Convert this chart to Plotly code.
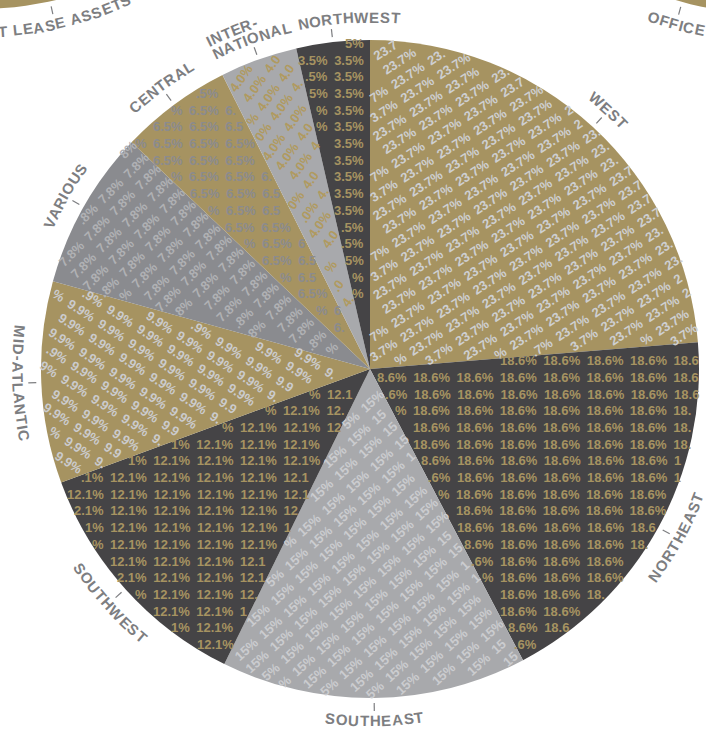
import math
import plotly.graph_objects as go

# ---------------- data ----------------
regions = ["WEST", "NORTHEAST", "SOUTHEAST", "SOUTHWEST", "MID-ATLANTIC",
           "VARIOUS", "CENTRAL", "INTERNATIONAL", "NORTHWEST"]
pct_labels = ["23.7%", "18.6%", "15%", "12.1%", "9.9%", "7.8%", "6.5%", "4.0%", "3.5%"]
# slice sizes as drawn in the picture (angular share of each wedge, %)
slice_shares = [23.7, 18.6, 15.0, 12.1, 9.9, 7.8, 5.5, 3.8, 3.6]
label_lines = {"INTERNATIONAL": ["INTER-", "NATIONAL"]}
neighbor_labels = ["NET LEASE ASSETS", "OFFICE"]

# ---------------- styling / layout ----------------
W, H = 706, 732
CX, CY, R = 370.0, 369.0, 329.0
GOLD = "#a69361"
DARK = "#454446"
LIGHT = "#a8a9ac"
MIDG = "#8a8b8f"
LABEL_GREY = "#7d7e81"
FONT = "Liberation Sans, Arial, Helvetica, sans-serif"

slice_colors = [GOLD, DARK, LIGHT, DARK, GOLD, MIDG, GOLD, LIGHT, DARK]
pattern_colors = ["#cecfd1", GOLD, "#cbcccf", GOLD, "#cbcbcd", "#b0b1b4", "#8b8b8e", "#b09a5f", GOLD]
pattern_angles = [-33, 0, -42, 0, 33, -45, 0, -54, 0]
label_shift = {"NORTHWEST": 3.0}

PAT_SIZE = 13
ROW_PITCH = 16.7
CAP_H = 9.4
TOL = -2.5          # allow glyph corners to touch the wedge edge by a couple of px
SEP = "\u2002"
GLYPH_W = {"0": 556, "1": 556, "2": 556, "3": 556, "4": 556, "5": 556, "6": 556,
           "7": 556, "8": 556, "9": 556, ".": 278, "%": 889, SEP: 500}
LETTER_W = {"A": 722, "B": 722, "C": 722, "D": 722, "E": 667, "F": 611, "G": 778,
            "H": 722, "I": 278, "J": 556, "K": 722, "L": 611, "M": 833, "N": 722,
            "O": 778, "P": 667, "Q": 778, "R": 722, "S": 667, "T": 611, "U": 722,
            "V": 667, "W": 944, "X": 667, "Y": 667, "Z": 611, "-": 333, " ": 278}
LBL_SIZE = 15
LBL_SPACING = 0.7

# neighbouring pies, only partially visible at the top corners
NB_LEFT = (-20.0, -320.0, 167.7)    # cx, cy, label angle
NB_RIGHT = (770.0, -315.0, 195.5)

def pt(cx, cy, r, a):
    ar = math.radians(a)
    return cx + r * math.sin(ar), cy - r * math.cos(ar)

fig = go.Figure()

# neighbour pie slivers
for cx, cy, _ in (NB_LEFT, NB_RIGHT):
    xs, ys = [], []
    for k in range(0, 361, 2):
        x, y = pt(cx, cy, R, k)
        xs.append(x); ys.append(y)
    fig.add_trace(go.Scatter(x=xs, y=ys, mode="lines", fill="toself", fillcolor=GOLD,
                             line=dict(width=0, color=GOLD), hoverinfo="skip", showlegend=False))

# main pie
fig.add_trace(go.Pie(labels=regions, values=slice_shares, sort=False, direction="clockwise",
                     rotation=0, marker=dict(colors=slice_colors, line=dict(width=0)),
                     textinfo="none", hoverinfo="skip", showlegend=False,
                     domain=dict(x=[(CX - R) / W, (CX + R) / W],
                                 y=[(H - CY - R) / H, (H - CY + R) / H])))

total = sum(slice_shares)
bounds = []
cum = 0.0
for s in slice_shares:
    bounds.append((cum / total * 360.0, (cum + s) / total * 360.0))
    cum += s

annotations = []

def inside(px, py, a0, a1, m):
    dx, dy = px - CX, py - CY
    if math.hypot(dx, dy) > R - m:
        return False
    r0, r1 = math.radians(a0), math.radians(a1)
    d0 = (math.sin(r0), -math.cos(r0))
    d1 = (math.sin(r1), -math.cos(r1))
    c0 = d0[0] * dy - d0[1] * dx
    c1 = dx * d1[1] - dy * d1[0]
    return c0 >= m and c1 >= m

# text patterns inside slices
for i, pct in enumerate(pct_labels):
    a0, a1 = bounds[i]
    t = math.radians(pattern_angles[i])
    eu = (math.cos(t), math.sin(t))
    ev = (-math.sin(t), math.cos(t))
    unit = list(pct) + [SEP]
    widths = [GLYPH_W[c] * PAT_SIZE / 1000.0 for c in unit]
    P = sum(widths)
    offs = []
    o = 0.0
    for w in widths:
        offs.append(o); o += w
    nmax = int(math.ceil(R / P)) + 2
    kmax = int(math.ceil(R / ROW_PITCH)) + 1
    for k in range(-kmax, kmax + 1):
        v = (k + 0.5) * ROW_PITCH
        seq = []
        for n in range(-nmax, nmax + 1):
            for c, w, of in zip(unit, widths, offs):
                u1 = n * P + of
                u2 = u1 + w
                ok = False
                if c != SEP:
                    ok = True
                    for uu in (u1, u2):
                        for vv in (v - CAP_H / 2, v + CAP_H / 2):
                            px = CX + uu * eu[0] + vv * ev[0]
                            py = CY + uu * eu[1] + vv * ev[1]
                            if not inside(px, py, a0, a1, TOL):
                                ok = False
                                break
                        if not ok:
                            break
                seq.append((c, u1, u2, ok))
        oks = [j for j, e in enumerate(seq) if e[3]]
        if not oks:
            continue
        j0, j1 = oks[0], oks[-1]
        text = "".join(e[0] for e in seq[j0:j1 + 1])
        uc = (seq[j0][1] + seq[j1][2]) / 2.0
        x = CX + uc * eu[0] + v * ev[0]
        y = CY + uc * eu[1] + v * ev[1]
        annotations.append(dict(x=x, y=y, xref="x", yref="y", text="<b>" + text + "</b>",
                                showarrow=False, textangle=pattern_angles[i],
                                xanchor="center", yanchor="middle",
                                font=dict(family=FONT, size=PAT_SIZE, color=pattern_colors[i])))

def text_width(s):
    ws = [LETTER_W.get(ch, 650) * LBL_SIZE / 1000.0 for ch in s]
    return sum(ws) + LBL_SPACING * (len(ws) - 1), ws

def curved(s, cx, cy, rad, center):
    tot, ws = text_width(s)
    c = center % 360
    upper = c >= 270 or c <= 90
    pos = -tot / 2
    for ch, w in zip(s, ws):
        mid = pos + w / 2
        da = math.degrees(mid / rad)
        a = c + da if upper else c - da
        rot = a if upper else a - 180
        while rot > 180:
            rot -= 360
        while rot < -180:
            rot += 360
        x, y = pt(cx, cy, rad, a)
        if ch != " " and -12 <= x <= W + 12 and -12 <= y <= H + 12:
            annotations.append(dict(x=x / W, y=1 - y / H, xref="paper", yref="paper",
                                    text="<b>" + ch + "</b>", showarrow=False,
                                    textangle=rot, xanchor="center", yanchor="middle",
                                    font=dict(family=FONT, size=LBL_SIZE, color=LABEL_GREY)))
        pos += w + LBL_SPACING

# ticks + labels of main pie
tick_x, tick_y = [], []
for i, name in enumerate(regions):
    a0, a1 = bounds[i]
    mid = (a0 + a1) / 2
    x0, y0 = pt(CX, CY, R + 5, mid)
    x1, y1 = pt(CX, CY, R + 13, mid)
    tick_x += [x0, x1, None]
    tick_y += [y0, y1, None]
    la = mid + label_shift.get(name, 0.0)
    if name in label_lines:
        l1, l2 = label_lines[name]
        rad2 = R + 22
        tot2, _ = text_width(l2)
        curved(l2, CX, CY, rad2, la)
        start = la - math.degrees(tot2 / 2 / rad2)
        rad1 = R + 36
        tot1, _ = text_width(l1)
        curved(l1, CX, CY, rad1, start + math.degrees(tot1 / 2 / rad1))
    else:
        curved(name, CX, CY, R + 23, la)

# neighbour ticks + labels
for (cx, cy, la), name in zip((NB_LEFT, NB_RIGHT), neighbor_labels):
    x0, y0 = pt(cx, cy, R + 5, la)
    x1, y1 = pt(cx, cy, R + 13, la)
    tick_x += [x0, x1, None]
    tick_y += [y0, y1, None]
    curved(name, cx, cy, R + 23, la)

fig.add_trace(go.Scatter(x=tick_x, y=tick_y, mode="lines", line=dict(color=LABEL_GREY, width=1.2),
                         hoverinfo="skip", showlegend=False))

fig.update_layout(width=W, height=H, autosize=False, margin=dict(l=0, r=0, t=0, b=0, pad=0),
                  paper_bgcolor="white", plot_bgcolor="white", showlegend=False,
                  xaxis=dict(range=[0, W], visible=False, fixedrange=True),
                  yaxis=dict(range=[H, 0], visible=False, fixedrange=True),
                  annotations=annotations)

fig.write_html("out.html", config={"displayModeBar": False})
